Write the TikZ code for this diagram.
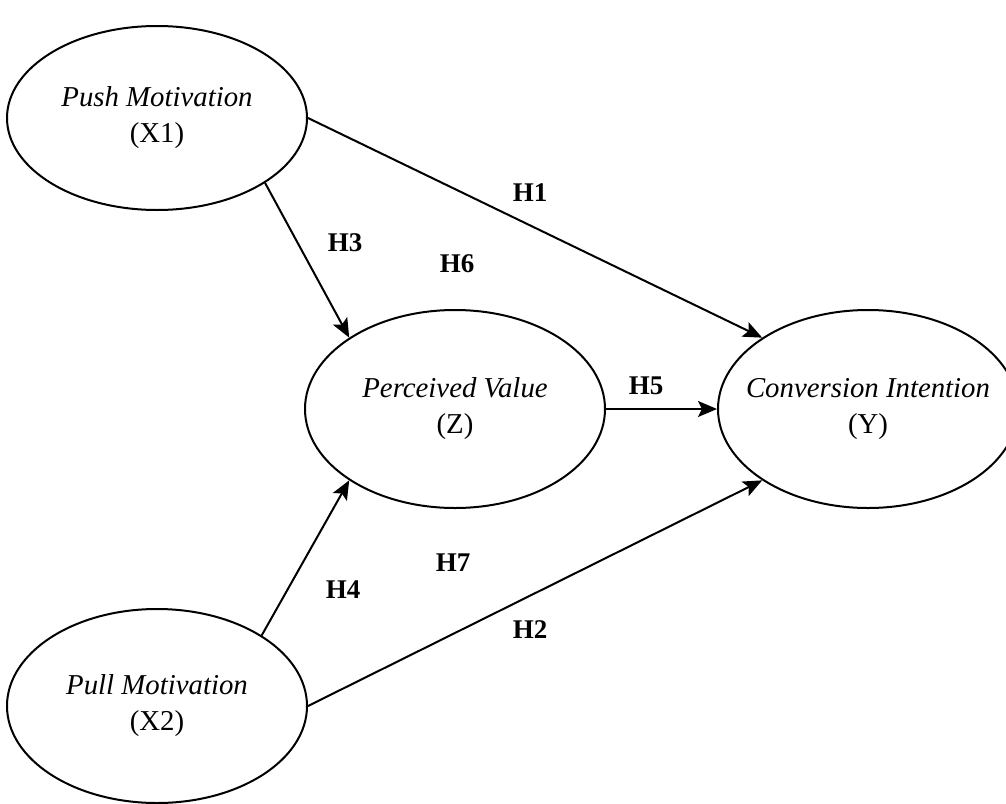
\documentclass[tikz,border=0pt]{standalone}
\usepackage{fontspec}
\setmainfont{Liberation Serif}
\usetikzlibrary{arrows.meta, shapes.geometric}
\tikzset{
  var/.style={
    draw, ellipse, line width=1pt,
    minimum width=150pt, minimum height=99pt,
    inner sep=0pt, align=center,
    font=\fontsize{14.4}{18}\selectfont
  },
  sig/.style={-{Stealth[length=9.5pt,width=8pt,inset=2pt]}, line width=1pt},
  lbl/.style={font=\fontsize{13.5}{16}\selectfont\bfseries}
}

\begin{document}
\begin{tikzpicture}[x=0.5pt, y=-0.5pt]

  \useasboundingbox (0,0) rectangle (1006,803);

  \node[var, minimum height=92pt] (push) at (157,118) {\textit{Push Motivation}\\(X1)};
  \node[var, minimum height=97pt] (pull) at (157,706) {\textit{Pull Motivation}\\(X2)};
  \node[var] (pv)   at (455,409) {\textit{Perceived Value}\\(Z)};
  \node[var, inner xsep=-12pt] (conv) at (868,409) {\textit{Conversion Intention}\\(Y)};

  \draw[sig] (push.east) -- (conv.146);
  \draw[sig] (push.329)  -- (pv.146);
  \draw[sig] (pv.east)   -- (conv.west);
  \draw[sig] (pull.34)   -- (pv.214);
  \draw[sig] (pull.east) -- (conv.214);

  \node[lbl] (h1) at (530,193) {H1};
  \node[lbl] (h3) at (345,243) {H3};
  \node[lbl] (h6) at (457,264) {H6};
  \node[lbl] (h5) at (646,386) {H5};
  \node[lbl] (h7) at (453,563) {H7};
  \node[lbl] (h4) at (343,590) {H4};
  \node[lbl] (h2) at (530,630) {H2};

\end{tikzpicture}
\end{document}
